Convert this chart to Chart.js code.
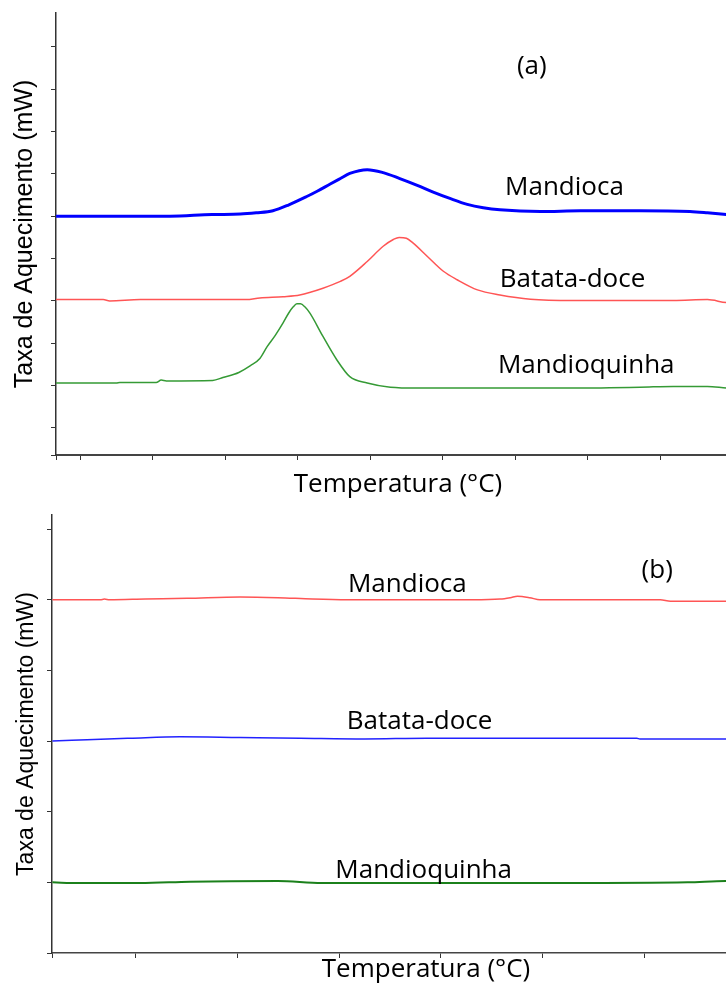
<!DOCTYPE html>
<html>
<head>
<meta charset="utf-8">
<script src="https://cdn.jsdelivr.net/npm/chart.js@4.4.1/dist/chart.umd.min.js"></script>
<style>
  html, body { margin: 0; padding: 0; background: #fff; }
  #page { width: 726px; height: 985px; overflow: hidden; position: relative; }
  #wrapA { position: absolute; left: 0; top: 0; }
  #wrapB { position: absolute; left: 0; top: 500px; }
</style>
</head>
<body>
<div id="page">
  <div id="wrapA"><canvas id="chartA" width="740" height="500"></canvas></div>
  <div id="wrapB"><canvas id="chartB" width="800" height="485"></canvas></div>
</div>
<script>
// names of the three samples
const sampleNames = ["Mandioca", "Batata-doce", "Mandioquinha"];

// panel (a) - temperature / heat flow (arbitrary offset units)
const tempA_mandioca = [36.7, 45.9, 52.4, 58.2, 62.1, 64.3, 66.6, 68.8, 71.2, 72.7, 74.5, 75.9, 77.2, 79.6, 81.8, 84.1, 86.5, 88.7, 91.0, 93.4, 95.6, 97.9, 103.5, 109.0, 117.2, 124.1, 126.5, 129.1, 131.0];
const fluxA_mandioca = [5.00, 5.00, 5.00, 5.04, 5.05, 5.08, 5.13, 5.27, 5.46, 5.59, 5.76, 5.89, 6.01, 6.10, 6.03, 5.89, 5.73, 5.57, 5.42, 5.28, 5.20, 5.15, 5.11, 5.13, 5.13, 5.11, 5.08, 5.04, 5.01];

const tempA_batata = [36.7, 43.2, 44.1, 48.3, 62.9, 64.8, 68.0, 70.3, 73.5, 75.9, 77.2, 79.6, 81.8, 83.2, 84.0, 85.0, 85.9, 87.9, 90.1, 92.0, 94.8, 97.9, 102.1, 108.0, 121.8, 126.5, 129.1, 131.0];
const fluxA_batata = [3.03, 3.03, 3.00, 3.03, 3.03, 3.07, 3.10, 3.14, 3.30, 3.46, 3.58, 3.93, 4.29, 4.45, 4.50, 4.48, 4.37, 4.05, 3.70, 3.50, 3.26, 3.14, 3.04, 3.01, 3.01, 3.03, 2.96, 2.95];

const tempA_mandioquinha = [36.7, 45.0, 45.5, 50.5, 51.2, 51.9, 58.3, 59.7, 61.9, 63.5, 64.8, 65.8, 66.9, 68.0, 68.8, 69.4, 69.9, 70.4, 71.0, 71.7, 73.5, 75.4, 77.2, 79.6, 82.8, 86.5, 108.0, 117.2, 121.8, 126.5, 129.1, 131.0];
const fluxA_mandioquinha = [1.06, 1.06, 1.07, 1.07, 1.13, 1.11, 1.12, 1.19, 1.31, 1.47, 1.64, 1.92, 2.18, 2.48, 2.72, 2.86, 2.93, 2.93, 2.86, 2.71, 2.16, 1.61, 1.21, 1.06, 0.96, 0.94, 0.94, 0.96, 0.98, 0.98, 0.94, 0.92];

// panel (b)
const tempB_mandioca = [21.9, 26.6, 27.0, 27.5, 31.0, 35.1, 40.3, 44.0, 47.4, 50.8, 63.1, 65.8, 66.8, 67.5, 68.7, 69.7, 81.5, 82.5, 87.9, 95.2];
const fluxB_mandioca = [5.00, 5.00, 5.01, 5.00, 5.01, 5.02, 5.04, 5.03, 5.01, 5.00, 5.00, 5.01, 5.03, 5.05, 5.03, 5.00, 5.00, 4.98, 4.98, 4.98];

const tempB_batata = [21.9, 23.8, 27.3, 29.5, 34.4, 40.3, 46.2, 52.5, 58.6, 79.2, 79.5, 87.9, 95.2];
const fluxB_batata = [3.00, 3.01, 3.03, 3.04, 3.06, 3.05, 3.04, 3.03, 3.04, 3.04, 3.03, 3.03, 3.03];

const tempB_mandioquinha = [21.9, 24.5, 30.5, 35.4, 44.0, 48.3, 72.2, 84.2, 87.9, 95.2];
const fluxB_mandioquinha = [1.00, 0.99, 0.99, 1.01, 1.02, 0.99, 0.99, 1.00, 1.02, 1.02];

// tick marks (no labels shown)
const xTicksA = [40, 50, 60, 70, 80, 90, 100, 110, 120, 130];
const yTicksA = [0, 1, 2, 3, 4, 5, 6, 7, 8, 9];
const xTicksB = [30, 40, 50, 60, 70, 80, 90];
const yTicksB = [0, 1, 2, 3, 4, 5, 6];

function toPoints(xs, ys) {
  return xs.map((x, i) => ({ x: x, y: ys[i] }));
}

// draws the sample names next to each curve
const curveLabels = {
  id: 'curveLabels',
  afterDatasetsDraw(chart, args, opts) {
    const ctx = chart.ctx;
    const xs = chart.scales.x, ys = chart.scales.y;
    ctx.save();
    ctx.font = opts.font;
    ctx.fillStyle = '#000';
    ctx.textAlign = 'center';
    ctx.textBaseline = 'middle';
    opts.items.forEach(it => {
      ctx.fillText(it.text, xs.getPixelForValue(it.x), ys.getPixelForValue(it.y));
    });
    ctx.restore();
  }
};

function makeChart(id, o) {
  const tickGrid = { drawOnChartArea: false, drawTicks: true, tickLength: 5, color: '#333', lineWidth: 1 };
  return new Chart(document.getElementById(id), {
    type: 'line',
    data: { datasets: o.datasets },
    plugins: [curveLabels],
    options: {
      responsive: false,
      animation: false,
      layout: { padding: { top: o.padTop, right: 0, bottom: 0, left: 0 } },
      elements: { point: { radius: 0 }, line: { cubicInterpolationMode: 'monotone' } },
      plugins: {
        legend: { display: false },
        tooltip: { enabled: false },
        curveLabels: { font: '26px "Open Sans"', items: o.labels }
      },
      scales: {
        x: {
          type: 'linear',
          min: o.xMin, max: o.xMax,
          grid: tickGrid,
          border: { color: '#444', width: o.xBorder },
          ticks: { display: false },
          afterBuildTicks: s => { s.ticks = [o.xMin].concat(o.xTicks).map(v => ({ value: v })); },
          afterFit: s => { s.height = o.xHeight; },
          title: {
            display: true, text: 'Temperatura (°C)', color: '#000',
            font: { family: 'Open Sans', size: 26, lineHeight: 1.15 },
            padding: { top: 0, bottom: 0 }
          }
        },
        y: {
          type: 'linear',
          min: o.yMin, max: o.yMax,
          grid: tickGrid,
          border: { color: '#333', width: 1.5 },
          ticks: { display: false },
          afterBuildTicks: s => { s.ticks = [o.yMin].concat(o.yTicks).map(v => ({ value: v })); },
          afterFit: s => { s.width = o.yWidth; },
          title: {
            display: true, text: 'Taxa de Aquecimento (mW)', color: '#000',
            font: { family: 'Liberation Sans', size: o.yTitleSize, lineHeight: 1.2 },
            padding: { top: o.yTitlePad, bottom: 0 }
          }
        }
      }
    }
  });
}

makeChart('chartA', {
  padTop: 13, xMin: 36.69, xMax: 131.0, yMin: -0.64, yMax: 9.8,
  xTicks: xTicksA, yTicks: yTicksA, xHeight: 45, yWidth: 56, xBorder: 2,
  yTitleSize: 25, yTitlePad: 10,
  datasets: [
    { data: toPoints(tempA_mandioca, fluxA_mandioca), borderColor: '#0000ff', borderWidth: 3 },
    { data: toPoints(tempA_batata, fluxA_batata), borderColor: '#ff5555', borderWidth: 1.5 },
    { data: toPoints(tempA_mandioquinha, fluxA_mandioquinha), borderColor: '#359a35', borderWidth: 1.5 }
  ],
  labels: [
    { text: '(a)', x: 102.3, y: 8.53 },
    { text: sampleNames[0], x: 106.8, y: 5.67 },
    { text: sampleNames[1], x: 107.9, y: 3.50 },
    { text: sampleNames[2], x: 109.8, y: 1.47 }
  ]
});

makeChart('chartB', {
  padTop: 15, xMin: 21.86, xMax: 95.2, yMin: 0, yMax: 6.2,
  xTicks: xTicksB, yTicks: yTicksB, xHeight: 32, yWidth: 52, xBorder: 1.5,
  yTitleSize: 23, yTitlePad: 13,
  datasets: [
    { data: toPoints(tempB_mandioca, fluxB_mandioca), borderColor: '#ff5555', borderWidth: 1.5 },
    { data: toPoints(tempB_batata, fluxB_batata), borderColor: '#2222ff', borderWidth: 1.5 },
    { data: toPoints(tempB_mandioquinha, fluxB_mandioquinha), borderColor: '#1b801b', borderWidth: 2 }
  ],
  labels: [
    { text: '(b)', x: 81.2, y: 5.42 },
    { text: sampleNames[0], x: 56.7, y: 5.22 },
    { text: sampleNames[1], x: 57.9, y: 3.28 },
    { text: sampleNames[2], x: 58.3, y: 1.17 }
  ]
});
</script>
</body>
</html>
